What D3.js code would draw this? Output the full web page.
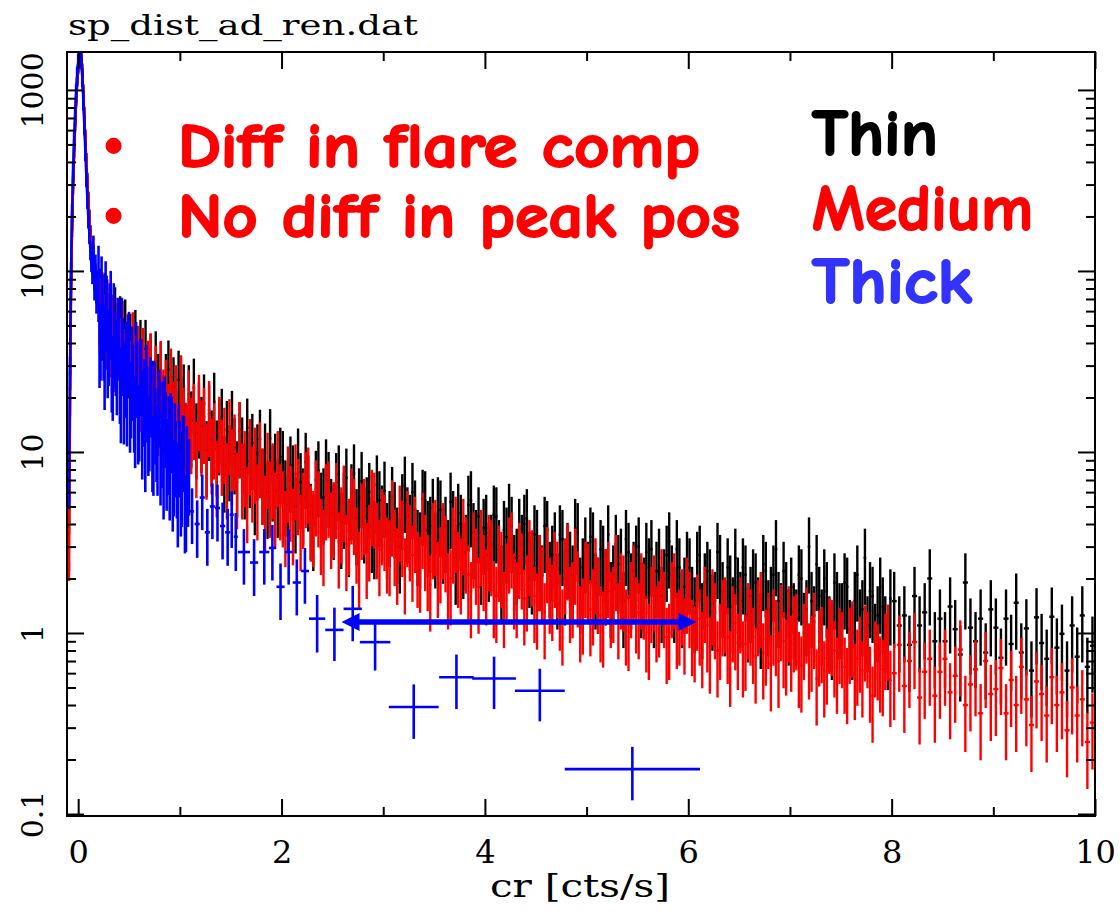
<!DOCTYPE html>
<html>
<head>
<meta charset="utf-8">
<script src="https://cdn.jsdelivr.net/npm/d3@7"></script>
<style>
  body { margin: 0; background: #fff; }
</style>
</head>
<body>
<div id="chart"></div>
<script>
// axis ticks
const xTicks = [0, 2, 4, 6, 8, 10];
const xMinorTicks = [1, 3, 5, 7, 9];
const yTicks = [0.1, 1, 10, 100, 1000];

// peak region, 0.01 wide bins starting at -0.095
const peakStart = -0.095, peakStep = 0.01;
const thinPeak = [4, 25, 90, 190, 320, 480, 680, 930, 1180, 1400, 1560, 1620, 1500, 1250, 960,
  720, 540, 400, 310, 245, 195, 160, 135, 118, 104, 95, 88, 82, 77];
const mediumPeak = [2.2, 18, 80, 175, 300, 460, 660, 900, 1150, 1380, 1540, 1600, 1480, 1230, 940,
  700, 520, 390, 300, 238, 190, 156, 130, 112, 100, 90, 84, 78, 72];
const thickPeak = [5.5, 30, 100, 210, 350, 520, 720, 960, 1200, 1420, 1580, 1640, 1480, 1180, 880,
  640, 460, 330, 250, 195, 160, 130, 112, 96, 140, 78, 110, 66, 90];

// thin / medium: 0.025 wide bins from 0.2 to 2.0
const midStart = 0.2, midStep = 0.025;
const thinMid = [71, 58, 67, 52, 58, 45, 56, 45, 50, 37,
  48, 36, 40, 30, 42, 33, 37, 27, 37, 26,
  31, 22, 32, 24, 28, 18.3, 24, 28.5, 18, 23,
  14.9, 25, 17.7, 21, 12.5, 20.8, 14.9, 22.6, 12.8, 16.7,
  13.9, 18.5, 10.2, 16.2, 11.7, 18.9, 10.3, 13.5, 15.4, 8.4,
  13.2, 9.7, 15, 10.6, 7.9, 13, 10.7, 7.7, 13.6, 8.9,
  11.2, 6.3, 9.8, 11.8, 7.2, 9.9, 6.0, 11.9, 7.5, 8.7, 6.1, 9.4];
const mediumMid = [63, 68, 51, 62, 47, 51, 39, 49, 38, 47,
  33, 40, 28.4, 40.8, 30.5, 34.3, 23.4, 33.4, 25.2, 28.4,
  31.2, 20.5, 26.6, 17.3, 28.3, 19.7, 22.3, 16.4, 25.7, 16.9,
  20.8, 12.6, 23.6, 15.6, 12.9, 19.5, 13.7, 16.4, 10.1, 18.4,
  13.3, 15.6, 9.9, 17, 10.6, 12.8, 7.9, 13.9, 10.4, 12.1,
  7.7, 13.5, 9.2, 11.1, 6.8, 13, 7.7, 9.0, 5.7, 10.5,
  7.4, 9.4, 5.9, 10.1, 7.2, 5.1, 8.8, 6.1, 7.7, 5.3, 9.0, 5.9];

// thin / medium: 0.025 wide bins from 2 to 8
const tailStart = 2.0, tailStep = 0.025;
const thinTail = [9.0, 6.2, 5.1, 8.4, 7.5, 5.0, 9.3, 6.8, 5.6, 8.8, 6.6, 4.6, 4.0, 7.0, 7.9, 5.3, 5.6, 8.1, 6.9, 4.9,
  4.6, 6.8, 7.5, 4.1, 5.3, 7.2, 3.7, 5.9, 7.6, 4.3, 5.6, 6.9, 4.4, 5.0, 6.0, 3.9, 3.6, 6.6, 5.4, 4.5,
  6.1, 3.6, 4.2, 5.7, 4.7, 3.4, 3.0, 5.2, 6.5, 4.4, 4.0, 6.0, 4.8, 3.3, 3.2, 5.5, 5.4, 3.7, 3.9, 4.9,
  3.2, 5.0, 4.8, 3.4, 3.9, 2.9, 5.3, 4.2, 2.6, 4.6, 4.0, 2.8, 3.1, 5.1, 5.4, 3.6, 3.3, 4.4, 2.6, 3.8,
  4.0, 2.7, 3.1, 4.5, 4.4, 2.9, 2.1, 3.7, 3.4, 4.6, 3.9, 2.4, 2.6, 3.8, 3.1, 4.0, 4.3, 2.5, 2.3, 3.5,
  3.3, 2.4, 2.1, 3.9, 3.7, 2.2, 2.7, 3.2, 1.9, 3.5, 3.3, 2.0, 2.8, 2.5, 2.1, 3.8, 3.6, 1.8, 2.3, 3.0,
  2.2, 3.4, 3.2, 1.9, 1.8, 2.9, 2.7, 2.0, 3.5, 1.7, 2.1, 3.1, 2.4, 2.6, 1.5, 3.3, 2.8, 1.9, 2.2, 2.7,
  3.0, 1.7, 1.8, 2.8, 2.3, 2.9, 1.5, 2.2, 2.6, 1.6, 2.0, 2.7, 3.2, 2.1, 1.6, 2.9, 2.3, 1.5, 1.8, 2.5,
  2.3, 1.6, 1.4, 2.5, 2.7, 1.3, 1.9, 2.2, 2.0, 1.45, 1.5, 2.8, 2.4, 1.7, 1.35, 2.3, 1.85, 1.4, 2.6, 1.8,
  1.5, 2.3, 2.1, 1.25, 1.6, 2.0, 1.9, 1.4, 1.15, 2.4, 2.2, 1.35, 1.6, 2.1, 2.9, 1.5, 1.3, 2.2, 1.7, 1.2,
  1.8, 1.3, 1.2, 2.1, 2.0, 1.15, 1.35, 3.0, 1.5, 1.25, 2.4, 1.6, 1.2, 2.0, 1.7, 1.1, 1.0, 1.9, 1.5, 1.3,
  1.3, 1.9, 1.8, 1.05, 1.0, 1.5, 2.1, 1.2, 1.35, 2.6, 1.1, 1.7, 1.6, 1.0, 1.25, 1.8, 1.4, 1.1, 0.88, 1.55];
const mediumTail = [5.4, 4.2, 7.4, 5.8, 4.3, 7.6, 6.3, 4.0, 5.3, 6.9, 7.3, 4.5, 4.2, 6.2, 5.4, 3.8, 3.3, 5.9, 6.1, 4.1,
  4.7, 6.0, 3.2, 4.4, 5.8, 3.1, 3.8, 5.6, 4.9, 3.4, 2.5, 4.6, 4.9, 2.8, 3.5, 5.5, 5.3, 3.6, 2.9, 4.3,
  4.0, 3.0, 2.9, 4.8, 3.3, 2.6, 4.5, 3.7, 2.3, 4.2, 3.5, 2.7, 3.9, 2.5, 2.35, 4.1, 3.1, 2.4, 1.85, 3.6,
  3.75, 2.2, 2.65, 3.6, 3.05, 1.9, 2.0, 3.4, 3.9, 2.5, 2.3, 3.8, 3.0, 2.1, 1.7, 3.2, 2.6, 1.8, 3.3, 2.4,
  2.0, 3.1, 2.9, 1.7, 1.6, 2.7, 2.5, 1.5, 2.15, 3.0, 3.2, 1.9, 1.7, 2.8, 2.45, 1.55, 1.85, 2.9, 2.55, 1.6,
  1.47, 2.4, 2.07, 1.3, 2.65, 1.8, 1.64, 2.5, 2.2, 1.45, 1.2, 2.3, 2.75, 1.6, 1.7, 2.6, 1.95, 1.25, 1.38, 2.2,
  2.15, 1.35, 1.55, 2.3, 1.8, 1.25, 1.17, 2.0, 2.2, 1.5, 1.6, 2.4, 1.3, 1.9, 1.85, 1.2, 1.12, 1.7, 2.1, 1.4,
  1.3, 1.9, 1.67, 1.1, 1.0, 1.6, 1.85, 1.25, 1.33, 2.0, 1.5, 0.95, 1.0, 1.7, 1.9, 1.15, 1.2, 1.55, 1.07, 1.8,
  1.5, 1.05, 0.97, 1.45, 1.2, 0.9, 1.6, 1.1, 0.84, 1.55, 1.3, 0.8, 1.0, 1.35, 1.4, 0.95, 0.71, 1.25, 1.13, 0.88,
  1.4, 0.8, 0.87, 1.3, 1.2, 0.95, 0.74, 1.35, 1.5, 0.78, 0.93, 1.15, 0.67, 1.2, 1.05, 0.7, 1.27, 0.9, 0.82, 1.25,
  0.86, 1.1, 1.13, 0.7, 0.66, 1.0, 1.23, 0.78, 0.86, 1.15, 0.56, 0.92, 0.96, 0.62, 0.73, 1.08, 1.05, 0.8, 0.65, 0.95,
  0.9, 0.65, 0.57, 0.95, 1.03, 0.6, 0.72, 0.85, 0.62, 0.98, 0.9, 0.58, 0.45, 0.8, 0.77, 0.66, 0.63, 0.88, 0.99, 0.55];

// thin / medium: 0.05 wide bins from 8 to 10
const farStart = 8.0, farStep = 0.05;
const thinFar = [1.5, 1.1, 1.25, 0.86, 1.6, 1.1, 1.3, 2.0, 0.9, 1.2,
  0.9, 1.4, 1.05, 0.76, 1.9, 1.07, 0.9, 1.2, 0.78, 1.35,
  1.07, 0.73, 1.2, 0.87, 1.47, 0.78, 1.06, 0.62, 1.22, 0.88,
  0.72, 1.23, 0.83, 0.99, 0.62, 1.1, 0.74, 1.25, 0.65, 0.85];
const mediumFar = [0.6, 0.86, 0.51, 0.7, 0.89, 0.44, 0.61, 0.72, 0.45, 0.61,
  0.72, 0.47, 0.58, 0.81, 0.4, 0.52, 0.63, 0.36, 0.7, 0.46,
  0.49, 0.64, 0.36, 0.55, 0.4, 0.65, 0.43, 0.31, 0.54, 0.46,
  0.35, 0.57, 0.4, 0.47, 0.29, 0.5, 0.35, 0.43, 0.25, 0.32];

// thick: 0.01 wide bins from 0.195 to 1.095
const thickMidStart = 0.195, thickMidStep = 0.01;
const thickMid = [95, 41, 45, 83, 66, 45, 31, 78, 65, 36, 42, 59, 69, 30, 27, 59, 41, 37, 29, 49,
  48, 26, 20.3, 49, 38, 20, 28, 36, 19.5, 39, 41, 18, 21.6, 34, 27, 18, 14.8, 36, 28, 15.5,
  16.1, 29, 28.9, 12.8, 19.4, 22.4, 10.9, 27, 20.5, 13.4, 14.2, 23, 21.8, 10.9, 10.4, 21.9, 15.5, 12.4, 10.4, 19.2,
  19.7, 9.2, 11.5, 16.9, 7.7, 18, 14.8, 8.6, 10.5, 14, 7.6, 14.6, 13.9, 6.6, 8.0, 12.8, 10.2, 7.8, 5.4, 12.6,
  10.2, 6.2, 7.0, 11, 10.9, 5.0, 5.1, 9.6, 7.0, 8.1];

// thick: wide bins past 1.1 (centre, width, value, error)
const thickBinX = [1.12, 1.17, 1.22, 1.27, 1.32, 1.37, 1.42, 1.47, 1.51, 1.55, 1.63, 1.73, 1.83, 1.91,
  1.99, 2.07, 2.15, 2.23, 2.35, 2.52, 2.70, 2.92, 3.30, 3.72, 4.09, 4.54, 5.45];
const thickBinW = [0.04, 0.05, 0.05, 0.05, 0.05, 0.05, 0.05, 0.05, 0.04, 0.04, 0.12, 0.08, 0.1, 0.07,
  0.08, 0.08, 0.08, 0.08, 0.16, 0.18, 0.18, 0.3, 0.49, 0.34, 0.43, 0.49, 1.33];
const thickBinY = [4.7, 4.0, 5.6, 3.6, 5.0, 4.9, 3.9, 3.6, 4.5, 3.4, 2.8, 2.45, 2.8, 2.95,
  1.8, 2.8, 1.9, 2.2, 1.2, 1.04, 1.36, 0.89, 0.39, 0.57, 0.56, 0.48, 0.177];
const thickBinErr = [1.6, 1.4, 1.9, 1.25, 1.7, 1.7, 1.35, 1.25, 1.55, 1.2, 0.95, 0.85, 0.95, 1.0,
  0.62, 0.95, 0.65, 0.75, 0.42, 0.34, 0.46, 0.27, 0.13, 0.19, 0.18, 0.155, 0.058];

// fractional error bars
const peakRelErr = 0.12;
const thinRelErr = 0.45, mediumRelErr = 0.45, thickRelErr = 0.45;

// arrow annotation (data units)
const arrowFrom = 2.59, arrowTo = 6.08, arrowAt = 1.15;

const W = 1120, H = 915;
const plot = { left: 67, right: 1095, top: 52, bottom: 816 };

const svg = d3.select("#chart").append("svg")
  .attr("width", W).attr("height", H)
  .style("font-family", "'DejaVu Serif', serif");

const x = d3.scaleLinear().domain([-0.11, 10]).range([plot.left, plot.right]);
const y = d3.scaleLog().domain([0.0975, 1620]).range([plot.bottom, plot.top]);

function makeBins(start, step, values, rel) {
  return values.map((v, i) => ({ x: start + step * (i + 0.5), w: step, y: v, err: v * rel }));
}

const thinBins = makeBins(peakStart, peakStep, thinPeak, peakRelErr)
  .concat(makeBins(midStart, midStep, thinMid, thinRelErr))
  .concat(makeBins(tailStart, tailStep, thinTail, thinRelErr))
  .concat(makeBins(farStart, farStep, thinFar, thinRelErr));
const mediumBins = makeBins(peakStart, peakStep, mediumPeak, peakRelErr)
  .concat(makeBins(midStart, midStep, mediumMid, mediumRelErr))
  .concat(makeBins(tailStart, tailStep, mediumTail, mediumRelErr))
  .concat(makeBins(farStart, farStep, mediumFar, mediumRelErr));
const thickBins = makeBins(peakStart, peakStep, thickPeak, peakRelErr)
  .concat(makeBins(thickMidStart, thickMidStep, thickMid, thickRelErr))
  .concat(thickBinX.map((c, i) => ({ x: c, w: thickBinW[i], y: thickBinY[i], err: thickBinErr[i] })));

svg.append("clipPath").attr("id", "clip")
  .append("rect")
  .attr("x", plot.left).attr("y", plot.top)
  .attr("width", plot.right - plot.left).attr("height", plot.bottom - plot.top);

const dataG = svg.append("g").attr("clip-path", "url(#clip)");

function drawSeries(bins, peak, color, sw) {
  const g = dataG.append("g").attr("stroke", color).attr("stroke-width", sw).attr("fill", "none");
  // peak is so finely binned it reads as a line
  g.append("path")
    .datum(makeBins(peakStart, peakStep, peak, 0))
    .attr("stroke-width", 2.5)
    .attr("d", d3.line().x(d => x(d.x)).y(d => y(d.y)));
  g.selectAll("line.v").data(bins).enter().append("line")
    .attr("x1", d => x(d.x)).attr("x2", d => x(d.x))
    .attr("y1", d => y(d.y + d.err)).attr("y2", d => y(Math.max(d.y - d.err, 0.01)));
  g.selectAll("line.h").data(bins).enter().append("line")
    .attr("x1", d => x(d.x - d.w / 2)).attr("x2", d => x(d.x + d.w / 2))
    .attr("y1", d => y(d.y)).attr("y2", d => y(d.y));
}

drawSeries(thinBins, thinPeak, "#000000", 2.4);
drawSeries(mediumBins, mediumPeak, "#ff0000", 2.4);
drawSeries(thickBins, thickPeak, "#0000ff", 2.6);

// frame and ticks
svg.append("rect")
  .attr("x", plot.left).attr("y", plot.top)
  .attr("width", plot.right - plot.left).attr("height", plot.bottom - plot.top)
  .attr("fill", "none").attr("stroke", "#000").attr("stroke-width", 2);

const yMinorTicks = y.ticks().filter(t => yTicks.indexOf(t) < 0 && t > 0.0975 && t < 1620);

function styleAxis(g) {
  g.select(".domain").remove();
  g.selectAll(".tick line").attr("stroke", "#000").attr("stroke-width", 2);
}

const gxB = svg.append("g").attr("transform", `translate(0,${plot.bottom})`)
  .call(d3.axisBottom(x).tickValues(xTicks).tickSize(-17).tickPadding(24).tickFormat(d3.format("d")));
styleAxis(gxB);
gxB.selectAll("text").attr("font-family", "'DejaVu Serif', serif").attr("font-size", 32).attr("fill", "#000");

svg.append("g").attr("transform", `translate(0,${plot.bottom})`)
  .call(d3.axisBottom(x).tickValues(xMinorTicks).tickSize(-9).tickFormat("")).call(styleAxis);
svg.append("g").attr("transform", `translate(0,${plot.top})`)
  .call(d3.axisTop(x).tickValues(xTicks).tickSize(-17).tickFormat("")).call(styleAxis);
svg.append("g").attr("transform", `translate(0,${plot.top})`)
  .call(d3.axisTop(x).tickValues(xMinorTicks).tickSize(-9).tickFormat("")).call(styleAxis);

const gyL = svg.append("g").attr("transform", `translate(${plot.left},0)`)
  .call(d3.axisLeft(y).tickValues(yTicks).tickSize(-17).tickFormat(d => d < 1 ? "0.1" : d3.format("d")(d)));
styleAxis(gyL);
gyL.selectAll("text")
  .attr("x", 0).attr("dy", null)
  .attr("text-anchor", "middle")
  .attr("transform", "translate(-24,0) rotate(-90)")
  .attr("font-family", "'DejaVu Serif', serif").attr("font-size", 30).attr("fill", "#000");

svg.append("g").attr("transform", `translate(${plot.left},0)`)
  .call(d3.axisLeft(y).tickValues(yMinorTicks).tickSize(-9).tickFormat("")).call(styleAxis);
svg.append("g").attr("transform", `translate(${plot.right},0)`)
  .call(d3.axisRight(y).tickValues(yTicks).tickSize(-17).tickFormat("")).call(styleAxis);
svg.append("g").attr("transform", `translate(${plot.right},0)`)
  .call(d3.axisRight(y).tickValues(yMinorTicks).tickSize(-9).tickFormat("")).call(styleAxis);

// title and axis label
svg.append("text").attr("x", 68).attr("y", 35)
  .attr("font-size", 27).attr("textLength", 350).attr("lengthAdjust", "spacingAndGlyphs")
  .text("sp_dist_ad_ren.dat");
svg.append("text").attr("x", 580).attr("y", 897).attr("text-anchor", "middle")
  .attr("font-size", 31).attr("textLength", 180).attr("lengthAdjust", "spacingAndGlyphs")
  .text("cr [cts/s]");

// arrow
const ay = y(arrowAt), ax1 = x(arrowFrom), ax2 = x(arrowTo), head = 18;
svg.append("line")
  .attr("x1", ax1 + head - 2).attr("x2", ax2 - head + 2).attr("y1", ay).attr("y2", ay)
  .attr("stroke", "#0000ff").attr("stroke-width", 5.5);
svg.append("path")
  .attr("d", `M${ax1},${ay}L${ax1 + head},${ay - 9}L${ax1 + head},${ay + 9}Z M${ax2},${ay}L${ax2 - head},${ay - 9}L${ax2 - head},${ay + 9}Z`)
  .attr("fill", "#0000ff");

// annotations
const handFont = "'Comic Sans MS', 'Comic Neue', Lato, sans-serif";
const notes = [
  { t: "Diff in flare comp", x: 178, y: 167, len: 522 },
  { t: "No diff in peak pos", x: 178, y: 237, len: 562 }
];
notes.forEach(n => {
  svg.append("text").attr("x", 114).attr("y", n.y - 7).attr("text-anchor", "middle")
    .attr("font-family", handFont).attr("font-weight", "bold").attr("font-size", 58)
    .attr("fill", "#ff0000").attr("stroke", "#ff0000").attr("stroke-width", 4)
    .text("•");
  svg.append("text").attr("x", n.x).attr("y", n.y)
    .attr("font-family", handFont).attr("font-weight", "bold").attr("font-size", 62)
    .attr("textLength", n.len).attr("lengthAdjust", "spacingAndGlyphs")
    .attr("fill", "#ff0000").attr("stroke", "#ff0000").attr("stroke-width", 2)
    .text(n.t);
});

const legend = [
  { t: "Thin", c: "#000000", y: 155, len: 126 },
  { t: "Medium", c: "#ff0000", y: 230, len: 221 },
  { t: "Thick", c: "#3333ff", y: 303, len: 160 }
];
legend.forEach(l => {
  svg.append("text").attr("x", 812).attr("y", l.y)
    .attr("font-family", handFont).attr("font-weight", "bold").attr("font-size", 64)
    .attr("textLength", l.len).attr("lengthAdjust", "spacingAndGlyphs")
    .attr("fill", l.c).attr("stroke", l.c).attr("stroke-width", 2)
    .text(l.t);
});
</script>
</body>
</html>
